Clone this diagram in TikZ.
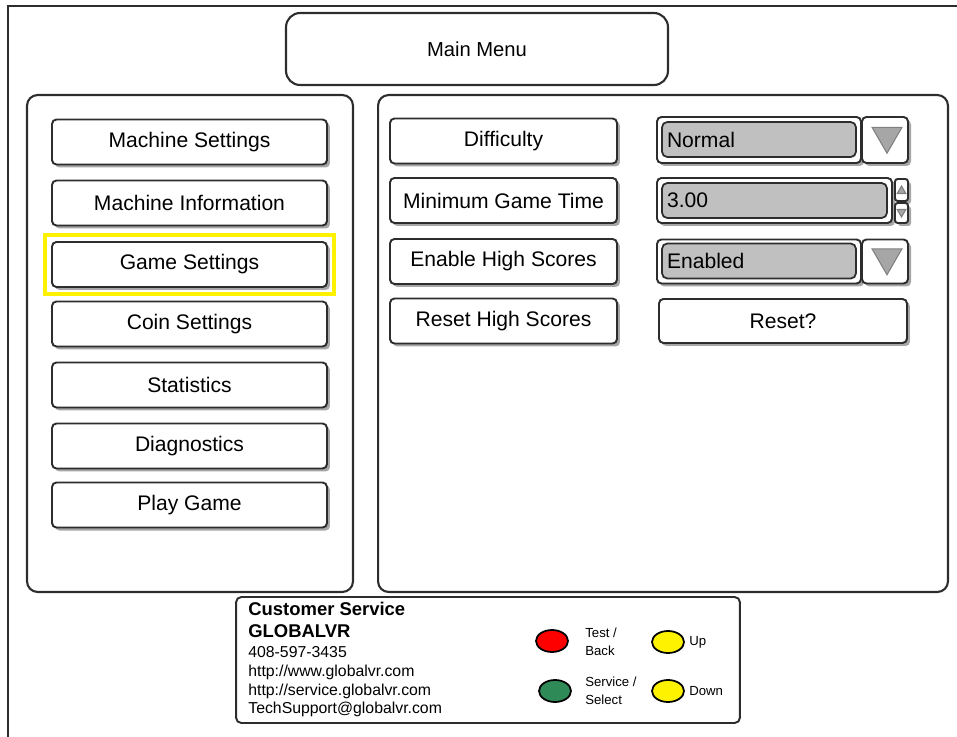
\documentclass[tikz,border=0pt]{standalone}
\usepackage{fontspec}
\setmainfont{Liberation Sans}
\usetikzlibrary{shadows,shapes.geometric}
\definecolor{trait}{RGB}{45,45,45}
\definecolor{grisfond}{RGB}{192,192,192}
\definecolor{vertvoyant}{RGB}{46,139,87}

\begin{document}
\begin{tikzpicture}[x=0.02cm, y=-0.02cm,
    panneau/.style={draw=trait, line width=1.2pt, rounded corners=6pt, inner sep=0pt},
    bouton/.style={draw=trait, line width=1.1pt, rounded corners=2.5pt, fill=white, inner sep=0pt,
      drop shadow={shadow xshift=0.06cm, shadow yshift=-0.06cm, fill=black, opacity=0.35},
      minimum height=0.9cm, font=\fontsize{12}{14}\selectfont},
    champ/.style={draw=trait, line width=1pt, rounded corners=3pt, fill=grisfond, inner xsep=0.1cm,
      inner ysep=0pt, align=left, minimum height=0.7cm, font=\fontsize{12}{14}\selectfont},
    fleche/.style={regular polygon, regular polygon sides=3, shape border rotate=180,
      draw=gray, fill=gray!70, inner sep=0pt, line width=0.6pt},
    voyant/.style={ellipse, draw=black, line width=1pt, minimum width=0.64cm, minimum height=0.44cm, inner sep=0pt},
    legende/.style={align=left, font=\fontsize{7.5}{10}\selectfont, inner sep=0pt, anchor=west},
    ligne/.style={font=\fontsize{9}{10}\selectfont, inner sep=0pt, anchor=west, text height=1.6ex, text depth=0.4ex}]
    \useasboundingbox (0,0) rectangle (957,737);
    % Cadre
    \draw[trait, line width=1.2pt] (8,737) -- (8,6) -- (957,6);
    \node[panneau, rounded corners=8pt, minimum width=7.64cm, minimum height=1.44cm,
      font=\fontsize{11.5}{13}\selectfont] (menu) at (477,49) {Main Menu};
    % Panneaux
    \node[panneau, minimum width=6.52cm, minimum height=9.94cm] (gauche) at (190,343.5) {};
    \node[panneau, minimum width=11.4cm, minimum height=9.94cm] (droite) at (663,343.5) {};
    % Boutons du menu
    \node[draw=yellow, line width=2.3pt, minimum width=5.78cm, minimum height=1.18cm, inner sep=0pt] (choix) at (189.5,264.5) {};
    \node[bouton, minimum width=5.5cm] (machine) at (189.5,142) {Machine Settings};
    \node[bouton, minimum width=5.5cm] (info) at (189.5,203) {Machine Information};
    \node[bouton, minimum width=5.5cm] (jeu) at (189.5,264.5) {Game Settings};
    \node[bouton, minimum width=5.5cm] (pieces) at (189.5,324) {Coin Settings};
    \node[bouton, minimum width=5.5cm] (stats) at (189.5,385) {Statistics};
    \node[bouton, minimum width=5.5cm] (diag) at (189.5,446) {Diagnostics};
    \node[bouton, minimum width=5.5cm] (jouer) at (189.5,505) {Play Game};
    % Reglages
    \node[bouton, minimum width=4.54cm] (difficulte) at (503.5,141) {Difficulty};
    \node[bouton, minimum width=4.54cm] (duree) at (503.5,200.5) {Minimum Game Time};
    \node[bouton, minimum width=4.54cm] (scores) at (503.5,261.5) {Enable High Scores};
    \node[bouton, minimum width=4.54cm] (raz) at (503.5,321) {Reset High Scores};
    % Valeurs
    \node[bouton, minimum width=4.08cm, minimum height=0.92cm] (liste1) at (759,140) {};
    \node[champ, text width=3.68cm] (normal) at (759,139.5) {Normal};
    \node[bouton, minimum width=0.92cm, minimum height=0.92cm] (ouvrir1) at (885,140) {};
    \node[fleche, minimum size=0.69cm] (tri1) at (887,136) {};
    \node[bouton, minimum width=4.7cm] (liste2) at (774.5,200.5) {};
    \node[champ, text width=4.3cm] (temps) at (774.5,200.5) {3.00};
    \node[bouton, minimum width=0.26cm, minimum height=0.44cm, rounded corners=1.5pt] (plus) at (901.5,190) {};
    \node[bouton, minimum width=0.26cm, minimum height=0.4cm, rounded corners=1.5pt] (moins) at (901.5,213) {};
    \node[fleche, minimum size=0.2cm, shape border rotate=0] (triplus) at (901.5,191) {};
    \node[fleche, minimum size=0.2cm] (trimoins) at (901.5,212) {};
    \node[bouton, minimum width=4.08cm, minimum height=0.88cm] (liste3) at (759,261.5) {};
    \node[champ, text width=3.68cm] (active) at (759,261) {Enabled};
    \node[bouton, minimum width=0.92cm, minimum height=0.88cm] (ouvrir3) at (885,261.5) {};
    \node[fleche, minimum size=0.69cm] (tri3) at (887,257.5) {};
    \node[bouton, minimum width=4.96cm, minimum height=0.88cm] (confirmer) at (783,321) {Reset?};
    % Service client
    \node[panneau, rounded corners=3pt, line width=1.1pt, minimum width=10.08cm, minimum height=2.52cm] (service) at (488,660) {};
    \node[ligne, font=\bfseries\fontsize{10.5}{12}\selectfont] (titre) at (248,610) {Customer Service};
    \node[ligne, font=\bfseries\fontsize{10.5}{12}\selectfont] (societe) at (248,632) {GLOBALVR};
    \node[ligne] (tel) at (248,652) {408-597-3435};
    \node[ligne] (site) at (248,671) {http://www.globalvr.com};
    \node[ligne] (site2) at (248,690) {http://service.globalvr.com};
    \node[ligne] (mail) at (248,708) {TechSupport@globalvr.com};
    % Voyants
    \node[voyant, fill=red] (test) at (552,641) {};
    \node[voyant, fill=vertvoyant] (select) at (555,691) {};
    \node[voyant, fill=yellow] (haut) at (668,642) {};
    \node[voyant, fill=yellow] (bas) at (668,691) {};
    \node[legende] (ltest) at (585,642) {Test /\\Back};
    \node[legende] (lselect) at (585,691) {Service /\\Select};
    \node[legende] (lhaut) at (689,642) {Up};
    \node[legende] (lbas) at (689,691) {Down};
\end{tikzpicture}
\end{document}
